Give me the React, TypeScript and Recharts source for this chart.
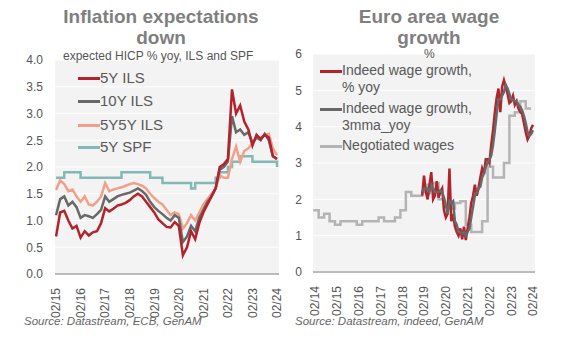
import { LineChart, Line, XAxis, YAxis, CartesianGrid } from 'recharts';

const FONT = '"Liberation Sans", Arial, sans-serif';

// left panel, bi-monthly from Feb 2015 to Feb 2024
const ILS_DATES = Array.from({ length: 55 }, (_, i) => 2015 + (1 + 2 * i) / 12);
const ILS_5Y = [
  0.7, 1.15, 1.18, 1.0, 0.85, 0.9, 0.68, 0.8, 0.72, 0.78, 0.8, 0.95,
  1.23, 1.17, 1.22, 1.28, 1.3, 1.33, 1.38, 1.45, 1.5, 1.45, 1.35, 1.25,
  1.15, 1.02, 0.95, 0.88, 0.87, 0.97, 0.9, 0.35, 0.5, 0.8, 0.65, 0.95,
  1.15, 1.3, 1.45, 1.6, 2.0, 2.05, 2.15, 3.45, 3.0, 3.15, 2.85, 2.7,
  2.4, 2.6, 2.52, 2.6, 2.55, 2.2, 2.15,
];
const ILS_10Y = [
  1.1, 1.4, 1.45, 1.28, 1.35, 1.25, 1.05, 1.1, 1.08, 1.05, 1.12, 1.2,
  1.45, 1.35, 1.4, 1.45, 1.48, 1.5, 1.52, 1.56, 1.6, 1.55, 1.48, 1.35,
  1.25, 1.18, 1.12, 1.05, 1.0, 1.1, 1.05, 0.6, 0.7, 0.9, 0.8, 1.05,
  1.2, 1.35, 1.45, 1.6, 1.95, 2.0, 2.1, 2.95, 2.65, 2.7, 2.6, 2.65,
  2.45, 2.55, 2.5, 2.62, 2.5, 2.2, 2.15,
];
const ILS_5Y5Y = [
  1.57, 1.75, 1.68, 1.55, 1.58, 1.45, 1.35, 1.45, 1.3, 1.28, 1.35, 1.45,
  1.7, 1.55, 1.58, 1.6, 1.62, 1.65, 1.68, 1.7, 1.68, 1.65, 1.6, 1.5,
  1.42, 1.35, 1.3, 1.2, 1.1, 1.15, 1.12, 0.85, 0.95, 1.1, 1.0, 1.15,
  1.3, 1.4, 1.5, 1.6, 1.85, 1.8, 1.8, 2.15, 2.38, 2.1, 2.3, 2.35,
  2.45, 2.55, 2.55, 2.6, 2.62, 2.35, 2.22,
];
const SPF_5Y = [
  1.8, 1.8, 1.9, 1.9, 1.9, 1.9, 1.8, 1.8, 1.8, 1.8, 1.8, 1.8,
  1.8, 1.8, 1.8, 1.8, 1.9, 1.9, 1.9, 1.9, 1.9, 1.9, 1.9, 1.8,
  1.8, 1.8, 1.7, 1.7, 1.7, 1.7, 1.7, 1.7, 1.7, 1.6, 1.7, 1.7,
  1.7, 1.7, 1.7, 1.8, 1.9, 1.9, 2.0, 2.1, 2.1, 2.2, 2.2, 2.2,
  2.1, 2.1, 2.1, 2.1, 2.1, 2.1, 2.0,
];
const LEFT_TICKS = ['02/15', '02/16', '02/17', '02/18', '02/19', '02/20', '02/21', '02/22', '02/23', '02/24'];
const LEFT_Y = [0, 0.5, 1, 1.5, 2, 2.5, 3, 3.5, 4];

// right panel: Indeed monthly from Jan 2019, negotiated wages quarterly from 2014
const WAGE_DATES = Array.from({ length: 62 }, (_, i) => 2019 + i / 12);
const INDEED_YOY = [
  2.1, 2.65, 2.2, 2.0, 2.4, 2.75, 2.0, 2.1, 2.5, 2.05, 2.2, 2.3,
  1.7, 1.5, 1.6, 2.85, 1.4, 1.6, 1.25, 1.1, 1.0, 1.2, 0.9, 1.25,
  0.88, 1.2, 1.5, 1.9, 2.1, 2.4, 2.1, 2.3, 2.6, 2.85, 2.7, 3.1,
  3.1, 3.0, 3.5, 3.9, 4.4, 4.8, 5.05, 4.4, 5.1, 5.28, 5.1, 4.9,
  4.65, 4.7, 4.85, 4.6, 4.7, 4.5, 4.4, 4.35, 4.1, 3.85, 3.65, 3.75,
  3.95, 4.05,
];
const INDEED_3MMA = [
  2.2, 2.3, 2.3, 2.3, 2.2, 2.4, 2.3, 2.2, 2.2, 2.2, 2.25, 2.2,
  2.05, 1.85, 1.6, 1.95, 1.9, 1.95, 1.4, 1.3, 1.1, 1.1, 1.05, 1.1,
  1.0, 1.1, 1.2, 1.5, 1.8, 2.1, 2.2, 2.3, 2.35, 2.6, 2.7, 2.9,
  3.0, 3.1, 3.2, 3.5, 3.9, 4.35, 4.75, 4.75, 4.85, 4.95, 5.15, 5.05,
  4.9, 4.75, 4.75, 4.7, 4.7, 4.6, 4.55, 4.45, 4.3, 4.1, 3.85, 3.75,
  3.8, 3.9,
];
const NEG_DATES = Array.from({ length: 41 }, (_, i) => 2014 + i / 4);
const NEG_WAGES = [
  1.7, 1.5, 1.6, 1.4,
  1.3, 1.4, 1.4, 1.4,
  1.3, 1.4, 1.4, 1.4,
  1.5, 1.4, 1.4, 1.5,
  1.7, 2.2, 2.1, 2.1,
  2.2, 2.4, 2.45, 2.0,
  1.8, 1.75, 1.9, 1.95,
  1.3, 1.1, 1.1, 1.4,
  2.9, 2.6, 2.6, 3.0,
  4.3, 4.4, 4.7, 4.5,
  4.5,
];
const RIGHT_TICKS = ['02/14', '02/15', '02/16', '02/17', '02/18', '02/19', '02/20', '02/21', '02/22', '02/23', '02/24'];
const RIGHT_Y = [0, 1, 2, 3, 4, 5, 6];

const RED = '#b3232c';
const DARK = '#686868';
const SALMON = '#f2a088';
const TEAL = '#82b9b6';
const LIGHT = '#b4b4b4';

const tickPos = (label: string) => 2000 + Number(label.slice(3)) + 1 / 12;
const tickLabel = (v: number) => '02/' + String(Math.round(v - 1 / 12) % 100).padStart(2, '0');

const leftData = ILS_DATES.map((x, i) => ({
  x,
  y5: ILS_5Y[i],
  y10: ILS_10Y[i],
  y5y5: ILS_5Y5Y[i],
  spf: SPF_5Y[i],
}));
const indeedData = WAGE_DATES.map((x, i) => ({ x, yoy: INDEED_YOY[i], mma: INDEED_3MMA[i] }));
const negData = NEG_DATES.map((x, i) => ({ x, neg: NEG_WAGES[i] }));

const RotTick = (props: any) => {
  const { x, y, payload } = props;
  const ty = y + 6;
  return (
    <text
      x={x}
      y={ty}
      transform={`rotate(-90, ${x}, ${ty})`}
      textAnchor="end"
      dy="0.36em"
      fill="#555"
      fontSize={12}
      fontFamily={FONT}
    >
      {tickLabel(payload.value)}
    </text>
  );
};

const yTick = { fill: '#555', fontSize: 12, fontFamily: FONT };

function LegendRow({ color, lines, top, left, size }: { color: string; lines: string[]; top: number; left: number; size: number }) {
  return (
    <div style={{ position: 'absolute', left, top, display: 'flex', alignItems: 'flex-start' }}>
      <div style={{ width: 22, height: 3, background: color, marginTop: 8 }} />
      <div style={{ fontSize: size, lineHeight: '17px', color: '#595959', fontFamily: FONT }}>
        {lines.map((l) => (
          <div key={l}>{l}</div>
        ))}
      </div>
    </div>
  );
}

const titleStyle = {
  position: 'absolute' as const,
  fontFamily: FONT,
  fontWeight: 'bold' as const,
  fontSize: 19,
  lineHeight: '21px',
  color: '#7f7f7f',
  textAlign: 'center' as const,
  width: 300,
};

const sourceStyle = {
  position: 'absolute' as const,
  fontFamily: FONT,
  fontStyle: 'italic' as const,
  fontSize: 11.5,
  color: '#666',
  whiteSpace: 'nowrap' as const,
};

export default function App() {
  return (
    <div style={{ position: 'absolute', left: 0, top: 0, width: 574, height: 343, background: '#fff', overflow: 'hidden' }}>
      <div style={{ position: 'absolute', left: 0, top: 0 }}>
        <LineChart width={290} height={320} data={leftData} margin={{ top: 60, right: 11, left: 0, bottom: 0 }}>
          <CartesianGrid vertical={false} stroke="#ffffff" fill="#f3f3f3" />
          <XAxis
            type="number"
            dataKey="x"
            domain={[2015.04, 2024.165]}
            ticks={LEFT_TICKS.map(tickPos)}
            tick={<RotTick />}
            interval={0}
            height={46}
            tickLine={false}
            axisLine={{ stroke: '#a6a6a6', strokeWidth: 1.5 }}
            allowDataOverflow
          />
          <YAxis
            domain={[0, 4]}
            ticks={LEFT_Y}
            tickFormatter={(v: number) => v.toFixed(1)}
            width={55}
            axisLine={false}
            tickLine={false}
            tickSize={0}
            tickMargin={12}
            tick={yTick}
          />
          <Line dataKey="spf" type="stepAfter" stroke={TEAL} strokeWidth={2.5} dot={false} isAnimationActive={false} />
          <Line dataKey="y5y5" type="linear" stroke={SALMON} strokeWidth={2.5} dot={false} isAnimationActive={false} />
          <Line dataKey="y10" type="linear" stroke={DARK} strokeWidth={2.5} dot={false} isAnimationActive={false} />
          <Line dataKey="y5" type="linear" stroke={RED} strokeWidth={2.5} dot={false} isAnimationActive={false} />
        </LineChart>
      </div>

      <div style={{ position: 'absolute', left: 285, top: 0 }}>
        <LineChart width={289} height={320} margin={{ top: 54, right: 39, left: 0, bottom: 0 }}>
          <CartesianGrid vertical={false} stroke="#ffffff" fill="#f3f3f3" />
          <XAxis
            type="number"
            dataKey="x"
            domain={[2013.99, 2024.175]}
            ticks={RIGHT_TICKS.map(tickPos)}
            tick={<RotTick />}
            interval={0}
            height={48}
            tickLine={false}
            axisLine={{ stroke: '#a6a6a6', strokeWidth: 1.5 }}
            allowDataOverflow
          />
          <YAxis
            domain={[0, 6]}
            ticks={RIGHT_Y}
            width={28}
            axisLine={false}
            tickLine={false}
            tickSize={0}
            tickMargin={11}
            tick={yTick}
          />
          <Line data={negData} dataKey="neg" type="stepAfter" stroke={LIGHT} strokeWidth={2.5} dot={false} isAnimationActive={false} />
          <Line data={indeedData} dataKey="yoy" type="linear" stroke={RED} strokeWidth={2.5} dot={false} isAnimationActive={false} />
          <Line data={indeedData} dataKey="mma" type="linear" stroke={DARK} strokeWidth={2.5} dot={false} isAnimationActive={false} />
        </LineChart>
      </div>

      <div style={{ ...titleStyle, left: 11, top: 6 }}>
        Inflation expectations
        <br />
        down
      </div>
      <div style={{ ...titleStyle, left: 279, top: 6 }}>
        Euro area wage
        <br />
        growth
      </div>
      <div style={{ position: 'absolute', left: 63, top: 49, fontFamily: FONT, fontSize: 12, color: '#555', whiteSpace: 'nowrap' }}>
        expected HICP % yoy, ILS and SPF
      </div>
      <div style={{ position: 'absolute', left: 424, top: 47, fontFamily: FONT, fontSize: 12, color: '#555' }}>%</div>

      <LegendRow color={RED} lines={['5Y ILS']} top={69} left={78} size={15} />
      <LegendRow color={DARK} lines={['10Y ILS']} top={92} left={78} size={15} />
      <LegendRow color={SALMON} lines={['5Y5Y ILS']} top={116} left={78} size={15} />
      <LegendRow color={TEAL} lines={['5Y SPF']} top={138} left={78} size={15} />

      <LegendRow color={RED} lines={['Indeed wage growth,', '% yoy']} top={62} left={320} size={14} />
      <LegendRow color={DARK} lines={['Indeed wage growth,', '3mma_yoy']} top={100} left={320} size={14} />
      <LegendRow color={LIGHT} lines={['Negotiated wages']} top={137} left={320} size={14} />

      <div style={{ ...sourceStyle, left: 24, top: 315 }}>Source: Datastream, ECB, GenAM</div>
      <div style={{ ...sourceStyle, left: 295, top: 315 }}>Source: Datastream, indeed, GenAM</div>
    </div>
  );
}
